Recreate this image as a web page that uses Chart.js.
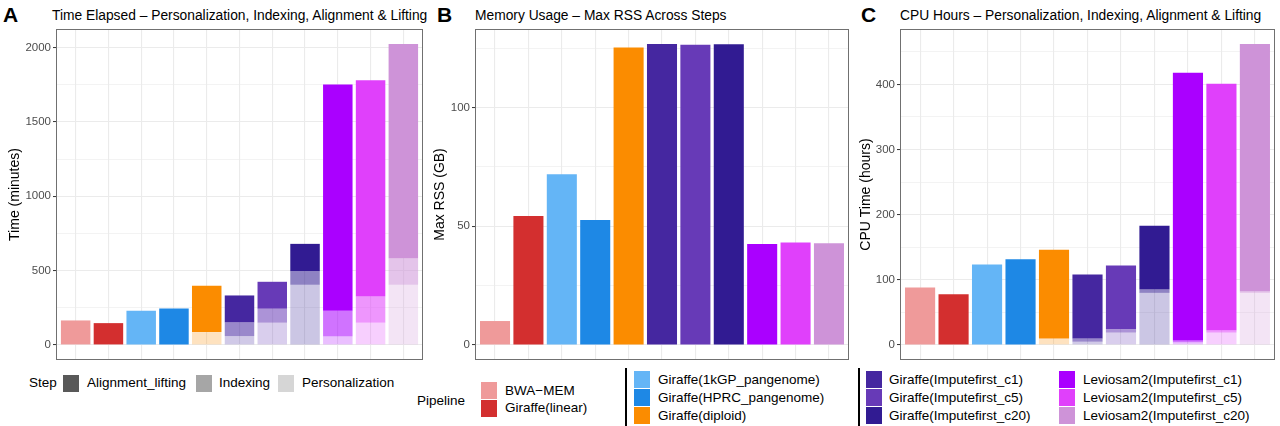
<!DOCTYPE html>
<html>
<head>
<meta charset="utf-8">
<script src="https://cdn.jsdelivr.net/npm/chart.js@4.4.1/dist/chart.umd.min.js"></script>
<style>
  body { margin: 0; background: #fff; font-family: "Liberation Sans", Arial, Helvetica, sans-serif; }
  #page { position: relative; width: 1280px; height: 426px; overflow: hidden; }
  canvas { position: absolute; }
  .t { position: absolute; white-space: nowrap; color: #000; }
  .letter { font-weight: bold; font-size: 21px; line-height: 22px; }
  .title { font-size: 13.8px; line-height: 16px; }
  .lg { font-size: 13.5px; line-height: 16px; }
  .sw { position: absolute; width: 16px; height: 17px; }
  .sep { position: absolute; width: 2px; background: #000; }
</style>
</head>
<body>
<div id="page">
  <div class="t letter" style="left:3px;top:4px;">A</div>
  <div class="t title" style="left:52px;top:8px;">Time Elapsed – Personalization, Indexing, Alignment &amp; Lifting</div>
  <div class="t letter" style="left:437px;top:4px;">B</div>
  <div class="t title" style="left:475px;top:8px;">Memory Usage – Max RSS Across Steps</div>
  <div class="t letter" style="left:861px;top:4px;">C</div>
  <div class="t title" style="left:900px;top:8px;">CPU Hours – Personalization, Indexing, Alignment &amp; Lifting</div>

  <canvas id="chartA" width="428" height="340" style="left:0;top:24px;"></canvas>
  <canvas id="chartB" width="426" height="340" style="left:428px;top:24px;"></canvas>
  <canvas id="chartC" width="426" height="340" style="left:854px;top:24px;"></canvas>

  <div id="legend"></div>
</div>

<script>
// ========================
// DATA
// ========================
const pipelines = [
  "BWA−MEM", "Giraffe(linear)", "Giraffe(1kGP_pangenome)", "Giraffe(HPRC_pangenome)",
  "Giraffe(diploid)", "Giraffe(Imputefirst_c1)", "Giraffe(Imputefirst_c5)",
  "Giraffe(Imputefirst_c20)", "Leviosam2(Imputefirst_c1)", "Leviosam2(Imputefirst_c5)",
  "Leviosam2(Imputefirst_c20)"
];
const pipelineColors = [
  "#EF9A9A", "#D32F2F", "#64B5F6", "#1E88E5", "#FB8C00", "#4527A0",
  "#673AB7", "#311B92", "#AA00FF", "#E040FB", "#CE93D8"
];
const steps = ["Alignment_lifting", "Indexing", "Personalization"];
const stepAlpha = [1, 0.55, 0.25];
const stepSwatch = ["#595959", "#A6A6A6", "#D6D6D6"];

// time elapsed (minutes)
const timePersonalization = [0, 0, 0, 0, 87, 60, 150, 405, 58, 150, 405];
const timeIndexing = [0, 0, 0, 0, 0, 92, 94, 91, 172, 176, 176];
const timeAlignment = [165, 147, 230, 246, 311, 181, 181, 184, 1522, 1455, 1443];
const timeTicks = [0, 500, 1000, 1500, 2000];

// max RSS (GB)
const maxRss = [10.1, 54.3, 71.9, 52.6, 125.2, 126.7, 126.4, 126.6, 42.5, 43.1, 42.8];
const rssTicks = [0, 50, 100];

// CPU time (hours)
const cpuPersonalization = [0, 0, 0, 0, 10, 5, 19, 80, 4, 19, 80];
const cpuIndexing = [0, 0, 0, 0, 0, 5, 5, 5, 3, 3, 2];
const cpuAlignment = [88, 78, 123.5, 131.6, 136, 98, 98, 98, 411, 379, 380];
const cpuTicks = [0, 100, 200, 300, 400];

// ========================
// HELPERS
// ========================
Chart.defaults.font.family = "'Liberation Sans', Arial, Helvetica, sans-serif";
Chart.defaults.animation = false;

function rgba(hex, a) {
  const n = parseInt(hex.slice(1), 16);
  return `rgba(${(n >> 16) & 255},${(n >> 8) & 255},${n & 255},${a})`;
}

function points(values) {
  return values.map((v, i) => ({ x: i, y: v }));
}

// major ticks plus the minor lines halfway between them (ggplot style)
function withMinor(majors, min, max) {
  const step = majors[1] - majors[0];
  const out = [];
  majors.forEach((v) => {
    if (v - step / 2 >= min && !out.some((t) => t.value === v - step / 2)) out.push({ value: v - step / 2, major: false });
    out.push({ value: v, major: true });
    if (v + step / 2 <= max) out.push({ value: v + step / 2, major: false });
  });
  return out;
}

const panelBorder = {
  id: "panelBorder",
  afterDraw(chart) {
    const { ctx, chartArea: a } = chart;
    ctx.save();
    ctx.strokeStyle = "#707070";
    ctx.lineWidth = 1;
    ctx.strokeRect(a.left + 0.5, a.top + 0.5, a.right - a.left - 1, a.bottom - a.top - 1);
    ctx.restore();
  },
};

function makeChart(id, datasets, opts) {
  const isMajor = (ctx) => ctx.tick && ctx.tick.major;
  new Chart(document.getElementById(id), {
    type: "bar",
    data: { datasets },
    options: {
      responsive: false,
      maintainAspectRatio: false,
      layout: { padding: { top: 5, right: 5, bottom: 4, left: 0 } },
      plugins: { legend: { display: false }, tooltip: { enabled: false } },
      datasets: { bar: { barPercentage: 0.9, categoryPercentage: 1.0 } },
      scales: {
        x: {
          type: "linear",
          stacked: true,
          offset: false,
          min: -0.6,
          max: pipelines.length - 0.4,
          afterBuildTicks: (s) => { s.ticks = pipelines.map((_, i) => ({ value: i })); },
          afterFit: (s) => { s.height = 0; s.paddingLeft = 0; s.paddingRight = 0; },
          ticks: { display: false },
          grid: { offset: false, color: "#EBEBEB", lineWidth: 1.1, drawTicks: false },
          border: { display: false },
        },
        y: {
          stacked: true,
          min: opts.min,
          max: opts.max,
          afterFit: (s) => { s.width = opts.axisWidth; s.paddingTop = 0; s.paddingBottom = 0; },
          afterBuildTicks: (s) => { s.ticks = withMinor(opts.ticks, opts.min, opts.max); },
          ticks: {
            padding: 2,
            color: "#4D4D4D",
            font: { size: 11.5 },
            autoSkip: false,
            callback: (v) => (opts.ticks.includes(v) ? String(v) : ""),
          },
          grid: {
            color: "#EBEBEB",
            lineWidth: (ctx) => (isMajor(ctx) ? 1.1 : 0.6),
            tickColor: (ctx) => (isMajor(ctx) ? "#333333" : "rgba(0,0,0,0)"),
            tickLength: 3,
            tickWidth: 1,
          },
          border: { display: false },
          title: {
            display: true,
            text: opts.title,
            color: "#000",
            font: { size: 14 },
            padding: { top: opts.titlePad, bottom: 0 },
          },
        },
      },
    },
    plugins: [panelBorder],
  });
}

function stackedSets(pers, idx, align) {
  return [
    { label: "Personalization", data: points(pers), backgroundColor: pipelineColors.map((c) => rgba(c, stepAlpha[2])) },
    { label: "Indexing", data: points(idx), backgroundColor: pipelineColors.map((c) => rgba(c, stepAlpha[1])) },
    { label: "Alignment_lifting", data: points(align), backgroundColor: pipelineColors.map((c) => rgba(c, stepAlpha[0])) },
  ];
}

// ========================
// CHARTS
// ========================
makeChart("chartA", stackedSets(timePersonalization, timeIndexing, timeAlignment), {
  min: -101, max: 2125, ticks: timeTicks, axisWidth: 56, title: "Time (minutes)", titlePad: 7,
});

makeChart("chartB", [{ label: "Max RSS", data: points(maxRss), backgroundColor: pipelineColors }], {
  min: -6.3, max: 133, ticks: rssTicks, axisWidth: 47, title: "Max RSS (GB)", titlePad: 4,
});

makeChart("chartC", stackedSets(cpuPersonalization, cpuIndexing, cpuAlignment), {
  min: -23.1, max: 485, ticks: cpuTicks, axisWidth: 46, title: "CPU Time (hours)", titlePad: 4,
});

// ========================
// LEGENDS
// ========================
const legend = document.getElementById("legend");
function text(str, x, yCenter) {
  const d = document.createElement("div");
  d.className = "t lg";
  d.style.left = x + "px";
  d.style.top = yCenter - 8 + "px";
  d.textContent = str;
  legend.appendChild(d);
}
function swatch(color, x, yCenter) {
  const d = document.createElement("div");
  d.className = "sw";
  d.style.left = x + "px";
  d.style.top = yCenter - 8.5 + "px";
  d.style.background = color;
  legend.appendChild(d);
}
function sep(x) {
  const d = document.createElement("div");
  d.className = "sep";
  d.style.left = x + "px";
  d.style.top = "368px";
  d.style.height = "58px";
  legend.appendChild(d);
}

// step legend
text("Step", 29, 383);
const stepX = [[63, 87], [196, 219], [278, 302]];
steps.forEach((s, i) => {
  swatch(stepSwatch[i], stepX[i][0], 383);
  text(s, stepX[i][1], 383);
});

// pipeline legend
text("Pipeline", 417, 401);
const cols = [
  { sw: 481, tx: 505, rows: [390.5, 408], items: [0, 1] },
  { sw: 634, tx: 658, rows: [379.5, 397.5, 415.5], items: [2, 3, 4] },
  { sw: 866, tx: 889, rows: [379.5, 397.5, 415.5], items: [5, 6, 7] },
  { sw: 1059, tx: 1083, rows: [379.5, 397.5, 415.5], items: [8, 9, 10] },
];
cols.forEach((c) => {
  c.items.forEach((p, r) => {
    swatch(pipelineColors[p], c.sw, c.rows[r]);
    text(pipelines[p], c.tx, c.rows[r]);
  });
});
sep(625);
sep(858);
</script>
</body>
</html>
